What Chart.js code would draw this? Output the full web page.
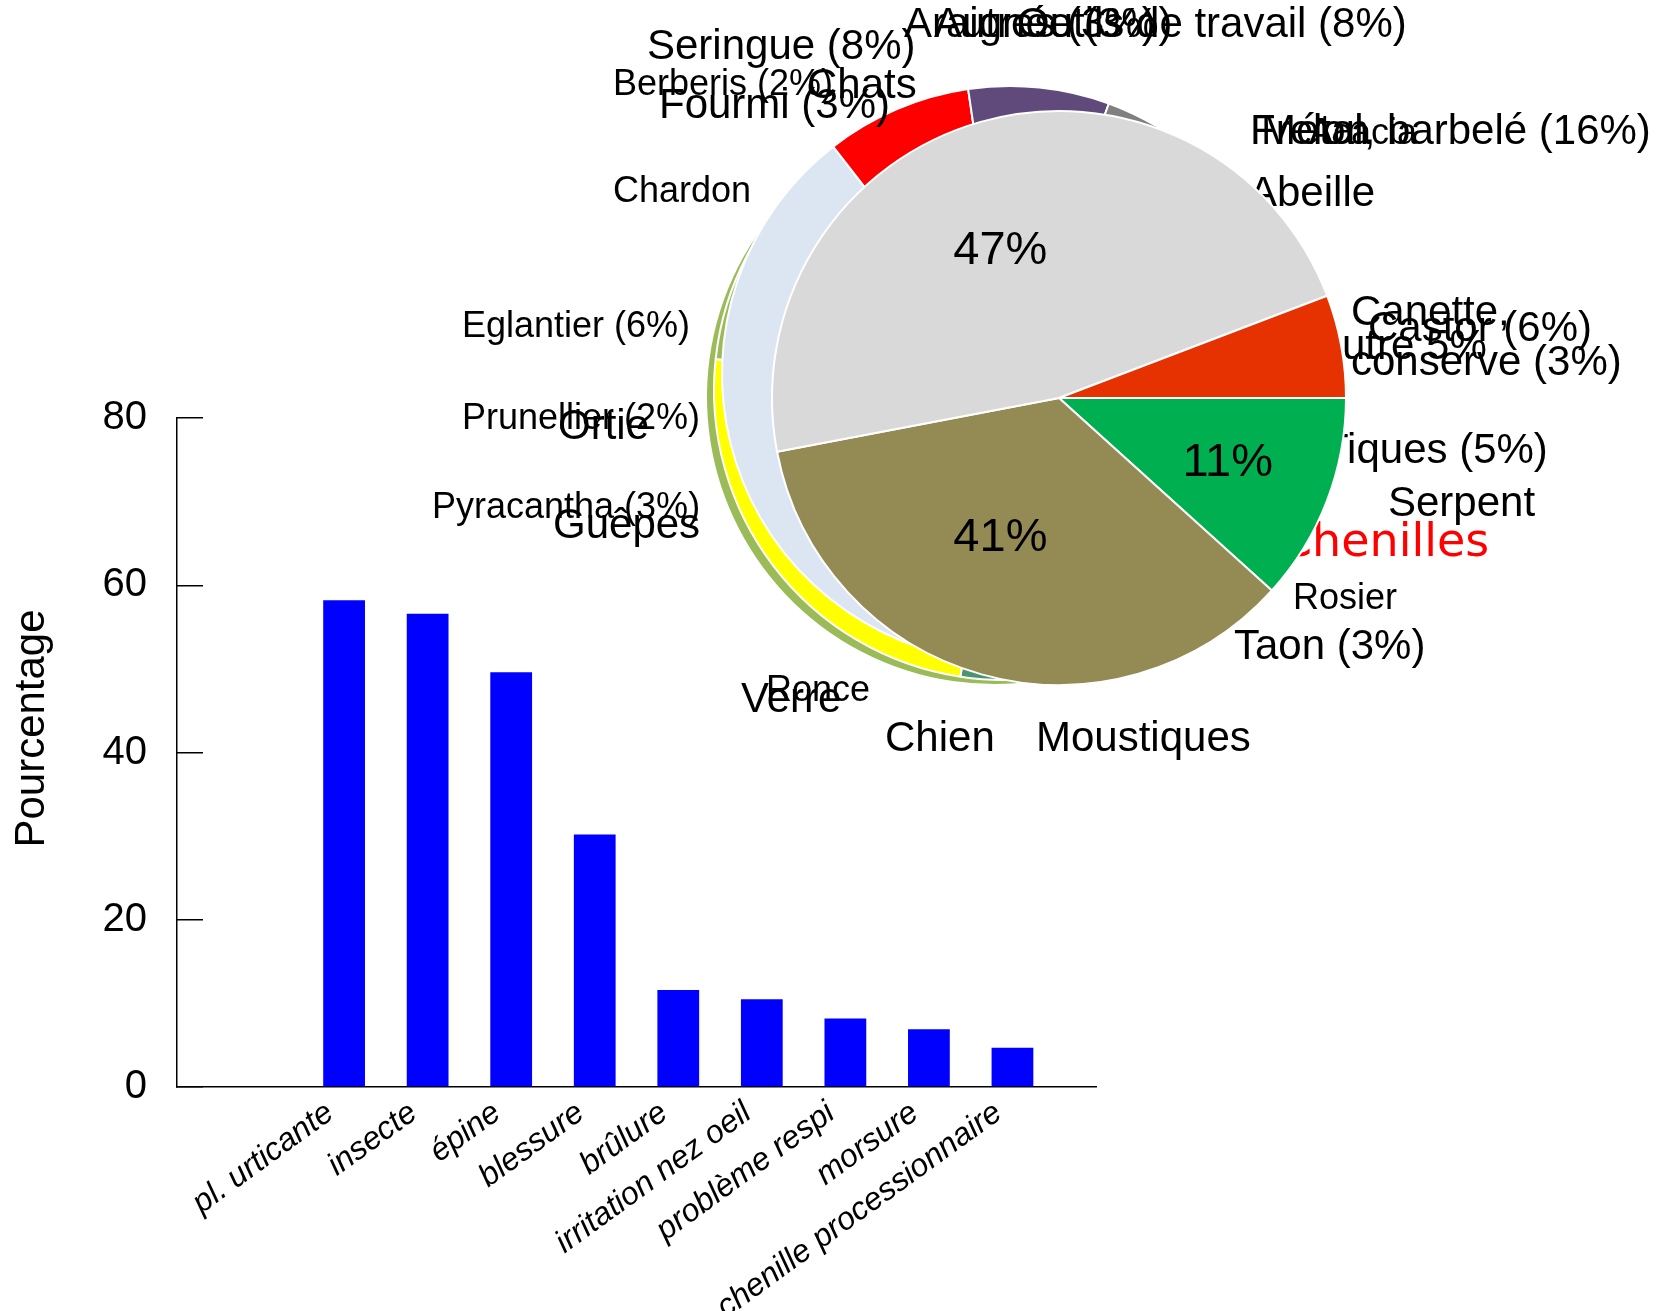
<!DOCTYPE html>
<html>
<head>
<meta charset="utf-8">
<script src="https://cdn.jsdelivr.net/npm/chart.js@4.4.1/dist/chart.umd.min.js"></script>
<style>
html,body{margin:0;background:#fff}
#wrap{position:relative;width:1672px;height:1311px}
#wrap canvas{position:absolute;left:0;top:0}
</style>
</head>
<body>
<div id="wrap">
<canvas id="bars" width="1672" height="1311"></canvas>
<canvas id="pieD" width="1672" height="1311"></canvas>
<canvas id="pieC" width="1672" height="1311"></canvas>
<canvas id="pieB" width="1672" height="1311"></canvas>
<canvas id="pieA" width="1672" height="1311"></canvas>
</div>
<script>
const W=1672,H=1311;
const FONT='"Liberation Sans", Arial, sans-serif';
Chart.defaults.font.family=FONT;
Chart.defaults.color='#000';

/* barres */
const causes=['pl. urticante','insecte','épine','blessure','brûlure','irritation nez oeil','problème respi','morsure','chenille processionnaire'];
const pourcents=[58.2,56.6,49.6,30.2,11.6,10.5,8.2,6.9,4.7];
const yTicks=[0,20,40,60,80];
const yTitre='Pourcentage';

/* camembert principal (devant) */
const mainLabels=['11%','41%','47%',''];
const mainValues=[11.7,35.3,47.2,5.8];
const mainColors=['#00b050','#948a54','#d9d9d9','#e63200'];

/* camemberts de derrière */
const bValues=[36.7,8.2,7.9,3.0,4.0,40.2];
const bColors=['#dce6f2','#ff0000','#604a7b','#808080','#4e8f6a','#c8c8c8'];
const cValues=[2.4,24.3,12.2,61.1];
const cColors=['#4a9474','#ffff00','#9bbb59','#c8c8c8'];
const dValues=[41.7,58.3];
const dColors=['#9bbb59','#c8c8c8'];

/* étiquettes */
const grands=['Seringue (8%)','Araignée (3%)','Autres (3%)','Outils de travail (8%)','Chats','Fourmi (3%)','Frelon','Métal, barbelé (16%)','Abeille','Canette,','conserve (3%)','Castor (6%)','Autre 5%','Tiques (5%)','Serpent','Taon (3%)','Moustiques','Chien','Verre','Guêpes','Ortie'];
const petits=['Berberis (2%)','Chardon','Eglantier (6%)','Prunellier (2%)','Pyracantha (3%)','Ronce','Rosier','Acacia'];
const rouges=['Chenilles'];

/* placement des étiquettes (x gauche, ligne de base) */
const posGrands=[[647,59],[904,37],[934,37],[1017,37],[807,98],[659,118],[1250,144],[1261,144],[1249,206],[1351,325],[1351,375],[1368,341],[1314,359],[1323,463],[1388,516],[1234,659],[1036,751],[885,751],[741,712],[553,538],[558,439]];
const posPetits=[[613,95],[613,202],[462,337],[462,429],[432,518],[766,701],[1293,609],[1309,144]];
const posRouges=[[1280,556]];
const rayonTexte=[0.63,0.53,0.55,0];
const decalAngle=[0,7,-6,0];

const etiquettes={
  id:'etiquettes',
  afterDraw(c){
    const g=c.ctx;
    g.save();
    g.textAlign='left';g.textBaseline='alphabetic';
    g.fillStyle='#000';
    g.font=`42px ${FONT}`;
    grands.forEach((t,i)=>g.fillText(t,posGrands[i][0],posGrands[i][1]));
    g.font=`36px ${FONT}`;
    petits.forEach((t,i)=>g.fillText(t,posPetits[i][0],posPetits[i][1]));
    g.fillStyle='#ff0000';
    g.font='46px "DejaVu Sans", sans-serif';
    rouges.forEach((t,i)=>g.fillText(t,posRouges[i][0],posRouges[i][1]));
    g.restore();
  }
};

const pcts={
  id:'pcts',
  afterDraw(c){
    const g=c.ctx,arcs=c.getDatasetMeta(0).data;
    g.save();
    g.font=`47px ${FONT}`;g.fillStyle='#000';
    g.textAlign='center';g.textBaseline='middle';
    arcs.forEach((a,i)=>{
      if(!mainLabels[i])return;
      const m=(a.startAngle+a.endAngle)/2+decalAngle[i]*Math.PI/180,rr=a.outerRadius*rayonTexte[i];
      g.fillText(mainLabels[i],a.x+Math.cos(m)*rr,a.y+Math.sin(m)*rr);
    });
    g.restore();
  }
};

/* titre de l'axe y, un peu au-dessus du milieu comme l'original */
const titreY={
  id:'titreY',
  afterDraw(c){
    const s=c.scales.y,g=c.ctx;
    g.save();
    g.font=`42px ${FONT}`;g.fillStyle='#000';
    g.textAlign='center';g.textBaseline='middle';
    g.translate(s.left+32,(s.top+s.bottom)/2-24);
    g.rotate(-Math.PI/2);
    g.fillText(yTitre,0,0);
    g.restore();
  }
};

new Chart(document.getElementById('bars'),{
  type:'bar',
  data:{
    labels:['','',...causes,''],
    datasets:[{data:[null,null,...pourcents,null],backgroundColor:'#0000ff',categoryPercentage:1,barPercentage:0.5}]
  },
  options:{
    responsive:false,animation:false,devicePixelRatio:1,
    layout:{padding:{left:0,top:418,right:576,bottom:0}},
    plugins:{legend:{display:false},tooltip:{enabled:false}},
    scales:{
      x:{
        offset:false,
        grid:{display:false},
        border:{color:'#000',width:1.5},
        ticks:{autoSkip:false,minRotation:36,maxRotation:36,padding:-1,labelOffset:-14,font:{size:32,style:'italic'}},
        afterFit(s){s.height=H-1087;}
      },
      y:{
        min:0,max:80,
        afterBuildTicks(s){s.ticks=yTicks.map(v=>({value:v}));},
        ticks:{padding:56,font:{size:40}},
        grid:{drawOnChartArea:false,tickLength:-26,color:'#000',lineWidth:1.5},
        border:{color:'#000',width:1.5},
        afterFit(s){s.width=177;}
      }
    }
  },
  plugins:[titreY]
});

function pie(id,cx,cy,r,values,colors,rotation,plugins){
  return new Chart(document.getElementById(id),{
    type:'pie',
    data:{datasets:[{data:values,backgroundColor:colors,borderColor:'#fff',borderWidth:2}]},
    options:{
      responsive:false,animation:false,devicePixelRatio:1,
      rotation,radius:r,
      layout:{padding:{left:cx-r,top:cy-r,right:W-cx-r,bottom:H-cy-r}},
      plugins:{legend:{display:false},tooltip:{enabled:false}}
    },
    plugins:plugins||[]
  });
}

pie('pieD',994,397,288,dValues,dColors,170);
pie('pieC',1004,390,290,cValues,cColors,180);
pie('pieB',1010,374,288,bValues,bColors,190,[etiquettes]);
pie('pieA',1059,398,287,mainValues,mainColors,90,[pcts]);
</script>
</body>
</html>
